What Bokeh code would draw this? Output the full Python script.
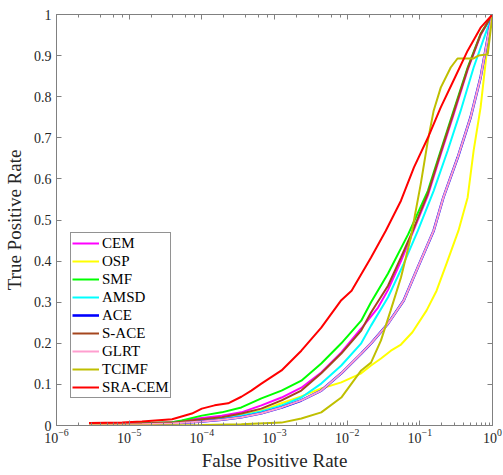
from bokeh.plotting import figure
from bokeh.models import (LogAxis, LinearAxis, FixedTicker, Legend, LegendItem,
                          Range1d, LogTicker)
from bokeh.embed import file_html
from bokeh.resources import INLINE

# ---- data (FPR, TPR) ----
fpr_cem = [2.8e-6, 1.5e-5, 3.9e-5, 1e-4, 1.88e-4, 3.5e-4, 6.6e-4, 1.25e-3, 2.34e-3, 4.4e-3, 8.3e-3, 1.56e-2, 2.66e-2, 3.65e-2, 5.5e-2, 8.0e-2, 0.129, 0.194, 0.292, 0.455, 0.686, 1.0]
tpr_cem = [0.003, 0.005, 0.008, 0.018, 0.024, 0.032, 0.049, 0.068, 0.092, 0.129, 0.178, 0.236, 0.287, 0.33, 0.40, 0.47, 0.56, 0.66, 0.757, 0.865, 0.95, 1.0]

fpr_osp = [2.8e-6, 1.5e-5, 3.9e-5, 1e-4, 1.88e-4, 3.5e-4, 6.6e-4, 1.25e-3, 2.34e-3, 4.4e-3, 8.3e-3, 1.56e-2, 2.13e-2, 2.92e-2, 4.0e-2, 5.5e-2, 7.9e-2, 0.124, 0.170, 0.233, 0.34, 0.455, 0.55, 0.686, 0.80, 0.91, 1.0]
tpr_osp = [0.002, 0.004, 0.006, 0.013, 0.018, 0.027, 0.036, 0.054, 0.071, 0.09, 0.105, 0.127, 0.146, 0.163, 0.182, 0.197, 0.227, 0.28, 0.328, 0.394, 0.474, 0.555, 0.669, 0.774, 0.88, 0.968, 1.0]

fpr_smf = [2.8e-6, 1.5e-5, 3.9e-5, 5.3e-5, 1e-4, 1.88e-4, 3.5e-4, 6.6e-4, 1.25e-3, 2.34e-3, 4.4e-3, 8.3e-3, 1.56e-2, 2.13e-2, 3.65e-2, 6.9e-2, 0.129, 0.194, 0.292, 0.455, 0.686, 1.0]
tpr_smf = [0.004, 0.006, 0.008, 0.012, 0.024, 0.032, 0.044, 0.066, 0.085, 0.109, 0.151, 0.2, 0.255, 0.30, 0.37, 0.465, 0.571, 0.669, 0.766, 0.871, 0.953, 1.0]

fpr_amsd = [2.8e-6, 1.5e-5, 3.9e-5, 1e-4, 1.88e-4, 3.5e-4, 6.6e-4, 1.25e-3, 2.34e-3, 4.4e-3, 8.3e-3, 1.56e-2, 2.13e-2, 3.65e-2, 6.0e-2, 9.4e-2, 0.155, 0.242, 0.365, 0.55, 0.80, 1.0]
tpr_amsd = [0.002, 0.004, 0.006, 0.012, 0.017, 0.024, 0.034, 0.049, 0.068, 0.102, 0.146, 0.2, 0.243, 0.312, 0.394, 0.474, 0.571, 0.669, 0.766, 0.871, 0.953, 1.0]

fpr_glrt = [2.8e-6, 1.5e-5, 3.9e-5, 1e-4, 1.88e-4, 3.5e-4, 6.6e-4, 1.25e-3, 2.34e-3, 4.4e-3, 8.3e-3, 1.56e-2, 2.13e-2, 3.65e-2, 6.0e-2, 9.4e-2, 0.155, 0.211, 0.332, 0.50, 0.686, 0.88, 1.0]
tpr_glrt = [0.002, 0.003, 0.005, 0.01, 0.014, 0.02, 0.03, 0.044, 0.061, 0.085, 0.127, 0.175, 0.2, 0.248, 0.304, 0.385, 0.474, 0.555, 0.652, 0.75, 0.847, 0.953, 1.0]

# ACE lies under GLRT in the reference
fpr_ace = fpr_glrt
tpr_ace = tpr_glrt

fpr_sace = [2.8e-6, 1.5e-5, 3.9e-5, 1e-4, 1.88e-4, 3.5e-4, 6.6e-4, 1.25e-3, 2.34e-3, 4.4e-3, 8.3e-3, 1.56e-2, 2.13e-2, 3.65e-2, 5.5e-2, 8.0e-2, 0.129, 0.194, 0.292, 0.455, 0.686, 1.0]
tpr_sace = [0.003, 0.005, 0.007, 0.015, 0.02, 0.029, 0.041, 0.061, 0.085, 0.127, 0.175, 0.231, 0.275, 0.34, 0.409, 0.474, 0.565, 0.665, 0.762, 0.868, 0.952, 1.0]

fpr_tcimf = [2.8e-6, 1.5e-5, 1e-4, 3.5e-4, 1.25e-3, 2.34e-3, 4.4e-3, 8.3e-3, 1.56e-2, 2.13e-2, 2.92e-2, 3.97e-2, 5.5e-2, 7.5e-2, 0.103, 0.129, 0.155, 0.194, 0.266, 0.33, 0.55, 0.64, 0.86, 1.0]
tpr_tcimf = [0.0, 0.0, 0.001, 0.003, 0.007, 0.017, 0.032, 0.068, 0.134, 0.153, 0.207, 0.28, 0.36, 0.457, 0.588, 0.693, 0.766, 0.822, 0.871, 0.893, 0.893, 0.90, 0.903, 1.0]

fpr_sra = [2.8e-6, 8e-6, 1.5e-5, 3.9e-5, 7.3e-5, 1e-4, 1.5e-4, 2.3e-4, 3.5e-4, 4.8e-4, 6.6e-4, 1.25e-3, 2.34e-3, 4.4e-3, 8.3e-3, 1.15e-2, 2.13e-2, 3.4e-2, 5.5e-2, 8.3e-2, 0.129, 0.194, 0.292, 0.455, 0.686, 1.0]
tpr_sra = [0.006, 0.007, 0.010, 0.015, 0.029, 0.041, 0.049, 0.054, 0.07, 0.085, 0.102, 0.134, 0.182, 0.238, 0.305, 0.328, 0.409, 0.474, 0.547, 0.628, 0.70, 0.774, 0.84, 0.912, 0.968, 1.0]

names = ["CEM", "OSP", "SMF", "AMSD", "ACE", "S-ACE", "GLRT", "TCIMF", "SRA-CEM"]
colors = ["#FF00FF", "#FFFF00", "#00FF00", "#00FFFF", "#0000FF", "#A5461E", "#FF9ECF", "#BFBF00", "#FF0000"]
series = [(fpr_cem, tpr_cem), (fpr_osp, tpr_osp), (fpr_smf, tpr_smf), (fpr_amsd, tpr_amsd),
          (fpr_ace, tpr_ace), (fpr_sace, tpr_sace), (fpr_glrt, tpr_glrt),
          (fpr_tcimf, tpr_tcimf), (fpr_sra, tpr_sra)]
y_ticks = [0, 0.1, 0.2, 0.3, 0.4, 0.5, 0.6, 0.7, 0.8, 0.9, 1]

FONT = "Liberation Serif"
AX = "#808080"
TXT = "#262626"

p = figure(width=503, height=475, x_axis_type="log", output_backend="svg",
           toolbar_location=None, x_range=Range1d(1e-6, 1), y_range=Range1d(0, 1),
           min_border_left=54, min_border_right=11, min_border_top=14, min_border_bottom=50)
p.xgrid.visible = False
p.ygrid.visible = False
p.outline_line_color = None
p.background_fill_color = "white"
p.border_fill_color = "white"

items = []
for name, col, (fx, ty) in zip(names, colors, series):
    w = 2.6 if name == "ACE" else 2
    r = p.line(fx, ty, line_color=col, line_width=w)
    items.append(LegendItem(label=name, renderers=[r]))

def style(ax, labels=True):
    ax.axis_line_color = AX
    ax.axis_line_width = 1
    ax.major_tick_line_color = AX
    ax.minor_tick_line_color = AX
    ax.major_tick_in = 5
    ax.major_tick_out = 0
    ax.minor_tick_in = 3
    ax.minor_tick_out = 0
    ax.major_label_text_font = FONT
    ax.major_label_text_color = TXT
    ax.major_label_text_font_size = "14px" if labels else "1px"
    if not labels:
        ax.major_label_text_alpha = 0
    ax.axis_label_text_font = FONT
    ax.axis_label_text_font_style = "normal"
    ax.axis_label_text_color = TXT
    ax.axis_label_text_font_size = "19px"

xa = p.xaxis[0]
style(xa)
xa.axis_label = "False Positive Rate"
xa.major_label_standoff = 3
xa.axis_label_standoff = 4

ya = p.yaxis[0]
style(ya)
ya.ticker = FixedTicker(ticks=y_ticks)
ya.major_label_overrides = {0: "0", 1: "1"}
ya.axis_label = "True Positive Rate"
ya.major_label_standoff = 5
ya.axis_label_standoff = 6
ya.minor_tick_line_color = None

top = LogAxis(ticker=LogTicker())
style(top, labels=False)
top.major_label_standoff = 0
p.add_layout(top, "above")

right = LinearAxis(ticker=FixedTicker(ticks=y_ticks))
style(right, labels=False)
right.minor_tick_line_color = None
right.major_label_standoff = 0
p.add_layout(right, "right")

legend = Legend(items=items, location=(14, 27))
legend.label_text_font = FONT
legend.label_text_font_size = "15px"
legend.label_text_color = "#000000"
legend.border_line_color = "#262626"
legend.border_line_width = 1
legend.background_fill_color = "white"
legend.background_fill_alpha = 1
legend.glyph_width = 27
legend.glyph_height = 18
legend.label_height = 18
legend.label_standoff = 3
legend.spacing = 0
legend.padding = 1
legend.margin = 0
p.add_layout(legend, "center")

open("out.html", "w").write(file_html(p, INLINE))
